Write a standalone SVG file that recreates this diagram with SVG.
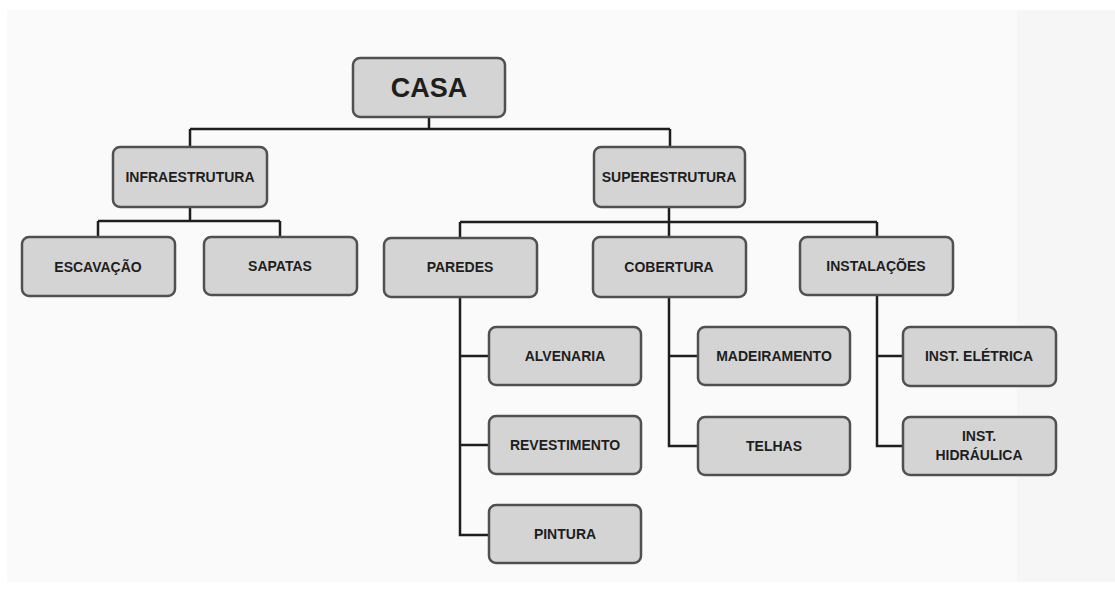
<svg xmlns="http://www.w3.org/2000/svg" width="1115" height="593" viewBox="0 0 1115 593">
  <style>
    .box { fill: #d4d4d4; stroke: #505050; stroke-width: 2.5; }
    .lbl { font-family: "Liberation Sans", Arial, sans-serif; font-weight: bold; font-size: 14px; fill: #1e1e1e; text-anchor: middle; dominant-baseline: central; }
    .big { font-size: 27px; }
    .conn { fill: none; stroke: #1e1e1e; stroke-width: 2.5; }
  </style>

  <!-- backdrop -->
  <rect x="0" y="0" width="1115" height="593" fill="#ffffff"/>
  <rect x="7" y="10" width="1010" height="572" fill="#fafafa"/>
  <rect x="1017" y="10" width="98" height="572" fill="#f6f6f6"/>

  <!-- connectors -->
  <g id="connectors" class="conn">
    <path d="M429 117 V129 M190 129 H670 M190 129 V147 M670 129 V147"/>
    <path d="M190 207 V221 M98 221 H280 M98 221 V237 M280 221 V237"/>
    <path d="M669 207 V222 M460 222 H877 M460 222 V238 M669 222 V237 M877 222 V237"/>
    <path d="M460 297 V535 H489 M460 356 H489 M460 445 H489"/>
    <path d="M669 297 V446 H698 M669 356 H698"/>
    <path d="M877 295 V446 H903 M877 356 H903"/>
  </g>

  <g id="casa"><rect class="box" x="353" y="58" width="152" height="59" rx="7"/><text class="lbl big" x="429" y="88">CASA</text></g>

  <g id="infraestrutura"><rect class="box" x="113" y="147" width="154" height="60" rx="7"/><text class="lbl" x="190" y="177">INFRAESTRUTURA</text></g>
  <g id="superestrutura"><rect class="box" x="594" y="147" width="151" height="60" rx="7"/><text class="lbl" x="669" y="177">SUPERESTRUTURA</text></g>

  <g id="escavacao"><rect class="box" x="22" y="237" width="153" height="59" rx="7"/><text class="lbl" x="98" y="267">ESCAVAÇÃO</text></g>
  <g id="sapatas"><rect class="box" x="204" y="237" width="153" height="58" rx="7"/><text class="lbl" x="280" y="266">SAPATAS</text></g>

  <g id="paredes"><rect class="box" x="384" y="238" width="153" height="59" rx="7"/><text class="lbl" x="460" y="267">PAREDES</text></g>
  <g id="cobertura"><rect class="box" x="593" y="237" width="153" height="60" rx="7"/><text class="lbl" x="669" y="267">COBERTURA</text></g>
  <g id="instalacoes"><rect class="box" x="800" y="237" width="153" height="58" rx="7"/><text class="lbl" x="876" y="266">INSTALAÇÕES</text></g>

  <g id="alvenaria"><rect class="box" x="489" y="327" width="152" height="58" rx="7"/><text class="lbl" x="565" y="356">ALVENARIA</text></g>
  <g id="revestimento"><rect class="box" x="489" y="416" width="152" height="58" rx="7"/><text class="lbl" x="565" y="445">REVESTIMENTO</text></g>
  <g id="pintura"><rect class="box" x="489" y="505" width="152" height="58" rx="7"/><text class="lbl" x="565" y="534">PINTURA</text></g>

  <g id="madeiramento"><rect class="box" x="698" y="327" width="152" height="58" rx="7"/><text class="lbl" x="774" y="356">MADEIRAMENTO</text></g>
  <g id="telhas"><rect class="box" x="698" y="417" width="152" height="58" rx="7"/><text class="lbl" x="774" y="446">TELHAS</text></g>

  <g id="inst-eletrica"><rect class="box" x="903" y="327" width="153" height="59" rx="7"/><text class="lbl" x="979" y="356">INST. ELÉTRICA</text></g>
  <g id="inst-hidraulica"><rect class="box" x="903" y="417" width="153" height="58" rx="7"/><text class="lbl" x="979" y="436">INST.</text><text class="lbl" x="979" y="455">HIDRÁULICA</text></g>
</svg>
